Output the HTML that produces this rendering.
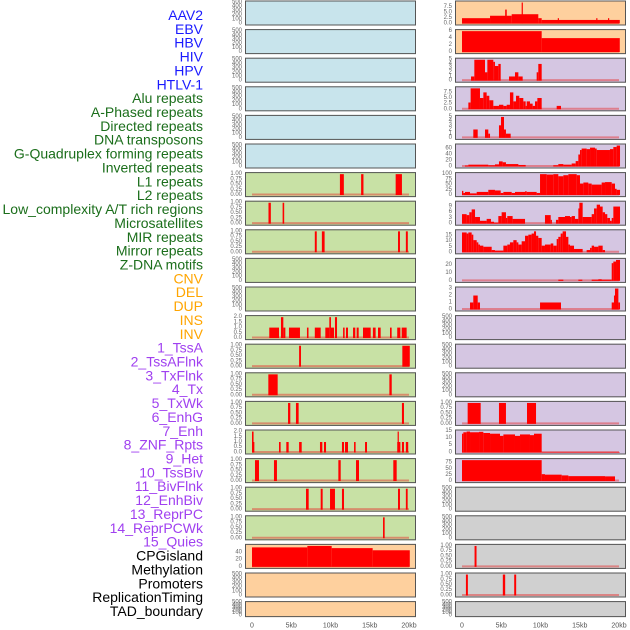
<!DOCTYPE html>
<html><head><meta charset="utf-8"><style>
html,body{margin:0;padding:0;background:#fff;}
svg{display:block;font-family:"Liberation Sans",sans-serif;}
</style></head><body>
<svg id="chart" width="630" height="630" viewBox="0 0 630 630" xmlns="http://www.w3.org/2000/svg"></svg>
<script>
const trackLabels = ["AAV2","EBV","HBV","HIV","HPV","HTLV-1","Alu repeats","A-Phased repeats","Directed repeats","DNA transposons","G-Quadruplex forming repeats","Inverted repeats","L1 repeats","L2 repeats","Low_complexity A/T rich regions","Microsatellites","MIR repeats","Mirror repeats","Z-DNA motifs","CNV","DEL","DUP","INS","INV","1_TssA","2_TssAFlnk","3_TxFlnk","4_Tx","5_TxWk","6_EnhG","7_Enh","8_ZNF_Rpts","9_Het","10_TssBiv","11_BivFlnk","12_EnhBiv","13_ReprPC","14_ReprPCWk","15_Quies","CPGisland","Methylation","Promoters","ReplicationTiming","TAD_boundary"];
const trackGroups = ["v","v","v","v","v","v","r","r","r","r","r","r","r","r","r","r","r","r","r","s","s","s","s","s","c","c","c","c","c","c","c","c","c","c","c","c","c","c","c","o","o","o","o","o"];
const xTickValues = [0,5,10,15,20];
const xTickLabels = ["0","5kb","10kb","15kb","20kb"];
const T500 = ["0","100","200","300","400","500"];
const T1 = ["0.00","0.25","0.50","0.75","1.00"];
const T2 = ["0.0","0.5","1.0","1.5","2.0"];
const panelTicks = [T500,T500,T500,T500,T500,T500,T1,T1,T1,T500,T500,T2,T1,T1,T1,T2,T1,T1,T1,["0","20","40"],T500,T500,
 ["0.0","2.5","5.0","7.5"],["0","2","4","6"],["0","1","2","3","4","5"],["0.0","2.5","5.0","7.5"],["0","1","2","3","4","5"],["0","20","40","60"],["0","25","50","75","100"],["0","3","6","9"],["0","5","10","15"],["0","10","20"],["0","1","2","3"],T500,T500,T500,T1,["0","5","10","15"],["0","25","50","75"],T500,T500,T1,T1,T500];
const panelMax = [500,500,500,500,500,500,1,1,1,500,500,2,1,1,1,2,1,1,1,58,500,500,
 9.5,6,5,9.3,5,70,100,11,19,26,3,500,500,500,1,14.5,85,500,500,1,1,500];
const panelSegments = [
 [],[],[],[],[],[],
 [[11.2,11.7,1],[13.9,14.2,1],[18.3,19.1,1]],
 [[2.1,2.4,1],[3.9,4.1,1]],
 [[8.0,8.25,1],[8.9,9.25,1],[18.6,18.85,1],[19.6,19.85,1]],
 [],[],
 [[2.2,3.44,1],[3.69,3.99,2],[3.99,4.25,1],[4.71,6.11,1],[7.0,7.2,1],[8.0,8.75,1],[9.34,9.85,1],[9.85,10.06,2],[10.06,10.45,1],[10.57,10.83,2],[11.6,11.8,1],[11.97,12.23,1],[12.87,13.16,1],[13.33,13.59,1],[14.14,15.12,1],[15.4,15.75,1],[16.05,16.39,1],[17.58,17.79,1],[18.5,18.9,1],[19.07,19.7,1]],
 [[6.0,6.24,1],[19.15,20.1,1]],
 [[2.08,3.27,1],[17.5,17.8,1]],
 [[4.59,4.88,1],[5.6,5.94,1],[19.1,19.36,1]],
 [[0,0.3,1],[0,0.2,2],[3.44,3.65,1],[4.37,4.67,1],[6.0,6.33,1],[8.66,8.96,1],[9.17,9.43,1],[11.46,11.72,1],[11.85,12.23,1],[13.0,13.2,1],[14.4,14.65,1],[18.5,18.9,1],[18.55,18.7,2],[19.1,19.36,1],[19.6,19.9,1]],
 [[0.38,0.89,1],[2.8,3.18,1],[11.0,11.3,1],[13.25,13.63,1],[18.0,18.43,1]],
 [[6.88,7.22,1],[8.75,9.0,1],[9.94,10.57,1],[11.46,11.72,1],[18.6,18.85,1],[19.6,19.83,1]],
 [[16.69,16.9,1]],
 [[0,7.05,54],[7.05,10.15,58],[10.15,15.37,52],[15.37,20.1,46]],
 [],[],
 [[0,3.57,2.4],[3.57,6.33,3.5],[5.5,5.7,6.3],[6.33,9.72,4.2],[7.6,7.75,9.5],[9.72,10.15,2.4],[10.15,20.1,1.6],[12.2,12.35,2.4],[17.1,17.25,2.4],[18.6,18.75,2.4]],
 [[0,10.15,6],[10.15,20.1,4]],
 [[1.15,1.57,1],[1.57,2.93,5],[2.93,3.23,2],[3.23,3.99,5],[3.99,4.2,4.5],[4.2,4.63,3.5],[4.63,4.93,4],[5.99,6.75,1],[6.75,7.18,2],[7.18,7.73,1],[9.51,9.72,2],[9.72,10.15,4]],
 [[0.81,1.1,3],[1.1,2.29,9.3],[2.29,2.72,5],[2.72,3.14,7.5],[3.14,3.48,6],[3.48,3.99,4],[3.99,4.71,1.5],[4.71,5.27,2],[5.27,5.69,1.5],[5.69,6.11,2],[6.11,6.54,7.5],[6.54,6.88,3.5],[6.88,7.3,6],[7.3,7.81,5],[7.81,8.11,3.5],[8.11,8.24,1.5],[8.24,8.66,3.5],[8.66,9.0,2.5],[9.0,9.3,1.5],[9.3,9.6,3.5],[9.6,10.15,5],[12.06,12.61,1.5]],
 [[1.44,2.0,2],[2.93,3.35,2],[3.35,3.57,1],[4.71,4.97,3],[4.97,5.35,5],[5.35,5.6,2],[5.6,6.2,1]],
 [[0.38,0.81,3],[0.81,3.35,6],[3.35,4.2,4],[4.2,4.71,7],[4.71,5.18,17],[5.18,5.6,14],[5.6,7.18,8],[7.18,8.11,5],[11.63,12.27,4],[12.27,12.91,8],[12.91,13.97,6],[13.97,14.48,10],[14.48,14.82,18],[14.82,15.03,40],[15.03,15.24,55],[15.24,15.88,60],[15.88,16.31,58],[16.31,16.94,63],[16.94,17.16,60],[17.16,18.85,55],[18.85,19.28,58],[19.28,19.7,65],[19.7,20.13,70]],
 [[0,0.17,20],[0.17,0.38,10],[0.38,1.02,15],[1.02,1.87,8],[1.87,3.35,15],[3.35,4.2,25],[4.2,4.93,22],[4.93,5.27,10],[5.27,6.33,15],[6.33,6.75,10],[6.75,8.03,15],[8.03,8.24,18],[8.24,9.51,15],[9.51,9.94,10],[9.94,10.79,100],[10.79,11.63,98],[11.63,12.27,100],[12.27,12.91,90],[12.91,13.55,95],[13.55,14.61,100],[14.61,15.03,95],[15.03,15.46,55],[15.46,16.09,60],[16.09,16.52,55],[16.52,17.79,50],[17.79,18.22,60],[18.22,19.07,62],[19.07,19.49,55],[19.49,19.7,30],[19.7,20.13,25]],
 [[0,0.59,5],[0.59,0.93,4.5],[0.93,1.23,6],[1.23,1.66,7.5],[1.66,2.29,3.5],[2.29,3.14,1.5],[3.14,3.69,2.5],[3.69,4.08,1],[4.08,4.63,0.5],[4.63,5.05,4],[5.05,5.6,6],[5.6,5.77,3],[5.77,6.45,4],[6.45,8.03,2.5],[10.57,11.3,4.5],[11.3,11.42,2],[11.97,12.27,2],[12.27,13.12,3.5],[13.12,13.76,4],[13.76,13.97,3.5],[13.97,14.39,4],[14.39,14.82,2.5],[14.82,14.95,8],[14.95,15.37,11],[15.37,16.52,3.5],[16.52,16.82,5],[16.82,17.16,8],[17.16,17.58,10],[17.58,17.92,9],[17.92,18.22,6],[18.22,18.51,5],[18.51,18.85,3],[18.85,19.07,1.5],[19.07,19.28,3],[19.28,20.13,9]],
 [[0,0.59,18],[0.59,0.81,17],[0.81,1.23,18],[1.23,1.44,16],[1.44,1.87,11],[1.87,2.08,9],[2.08,2.29,7],[2.29,2.72,6],[2.72,3.78,5],[3.78,4.2,2],[4.2,5.27,1.5],[5.27,5.77,6],[5.77,6.11,7],[6.11,6.54,9],[6.54,6.96,11],[6.96,7.18,9],[7.18,7.6,7],[7.6,8.03,10],[8.03,8.45,15],[8.45,8.87,16],[8.87,9.17,17],[9.17,9.43,19],[9.43,9.72,15],[9.72,10.15,13],[10.15,10.57,6],[10.57,11.3,7],[11.3,11.63,8],[11.63,12.06,6],[12.06,12.27,12],[12.27,12.57,14],[12.57,12.82,17],[12.82,13.25,19],[13.25,13.55,14],[13.55,13.76,7],[13.76,14.27,6],[14.27,15.37,3],[15.88,16.31,2],[16.31,16.52,4],[16.52,16.82,6],[16.82,17.37,5],[17.37,17.92,6],[17.92,18.22,2]],
 [[12.27,12.91,1.5],[14.82,15.33,1.5],[16.52,19.07,1.5],[17.37,17.79,2],[19.07,19.28,22],[19.28,19.62,24],[19.62,20.13,26]],
 [[1.02,1.44,1],[1.44,2.0,2],[2.0,2.29,1],[9.94,12.61,1],[19.07,19.36,1],[19.36,19.49,2],[19.49,19.92,3],[19.92,20.13,1]],
 [],[],[],
 [[0.72,2.38,1],[4.71,5.6,1],[8.28,9.43,1]],
 [[0,0.17,13],[0.17,0.59,14],[0.59,1.02,14.5],[1.02,2.17,14],[2.17,2.72,14.3],[2.72,3.57,13.5],[3.57,4.84,13],[4.84,5.27,11.5],[5.27,6.75,12.5],[6.75,7.39,11.5],[7.39,8.66,12.5],[8.66,9.17,12],[9.17,10.15,13],[10.15,20.1,0.3]],
 [[0,10.15,85],[10.15,10.57,28],[10.57,12.7,26],[12.7,13.55,23],[13.55,18.22,20],[18.22,19.49,19]],
 [],[],
 [[1.6,1.85,1]],
 [[0.5,0.75,1],[5.2,5.5,1],[6.65,6.9,1]],
 []
];
const groupColors = {v:"#1a1aff",r:"#1b6e1b",s:"#ffa500",c:"#a040f0",o:"#000000"};
const groupBg = {v:"#c8e4ec",r:"#c8e1a5",s:"#fed09e",c:"#d5c6e2",o:"#d0d0d0"};

const NS = "http://www.w3.org/2000/svg";
const svg = document.getElementById("chart");
function mk(tag, attrs, parent){
  const e = document.createElementNS(NS, tag);
  for (const k in attrs) e.setAttribute(k, attrs[k]);
  (parent||svg).appendChild(e);
  return e;
}
// labels
trackLabels.forEach((lab,i)=>{
  const t = mk("text",{x:203,y:15+i*13.86,"text-anchor":"end","dominant-baseline":"central","font-size":"14",fill:groupColors[trackGroups[i]]});
  
  
  t.textContent = lab;
});
// panels
for (let i=0;i<44;i++){
  const col = i<22?0:1, row = i%22;
  const x0 = col?455:245, y0 = row*28.6+0.5, w = 171, h = row==21?16:25;
  const M = panelMax[i];
  const xs = kb => x0+7+kb*7.85;
  const ys = v => y0+h-1-(v+0.05*M)/(1.1*M)*(h-2);
  const g = mk("g",{});
  
  
  const bg = mk("rect",{x:x0,y:y0,width:w,height:h,fill:groupBg[trackGroups[i]]},g);
  
  
  const segs = panelSegments[i];
  if (segs.length){
    const bl = mk("line",{x1:xs(0),x2:xs(20),y1:ys(0)-0.5,y2:ys(0)-0.5,stroke:"rgba(230,40,40,0.45)","stroke-width":2},g);
    
    
  }
  segs.forEach(s=>{
    const x1 = xs(s[0]), x2 = xs(s[1]);
    const y = ys(s[2]), yb = ys(0);
    const r = mk("rect",{x:x1,y:y,width:Math.max(1.2,x2-x1),height:Math.max(0,yb-y),fill:"#ff0000"},g);
    
    
  });
  const fr = mk("rect",{x:x0+0.5,y:y0+0.5,width:w-1,height:h-1,fill:"none",stroke:"#555","stroke-width":1},g);
  
  
  panelTicks[i].forEach(lbl=>{
    const v = parseFloat(lbl);
    const t = mk("text",{x:x0-3,y:ys(v),"text-anchor":"end","dominant-baseline":"central","font-size":"6",fill:"#666"},g);
    
    
    t.textContent = lbl;
  });
}
// x axes
[245,455].forEach(x0=>{
  xTickValues.forEach((v,j)=>{
    const t = mk("text",{x:x0+7+v*7.85,y:626,"text-anchor":"middle","dominant-baseline":"central","font-size":"7",fill:"#555"});
    
    
    t.textContent = xTickLabels[j];
  });
});
</script>
</body></html>
